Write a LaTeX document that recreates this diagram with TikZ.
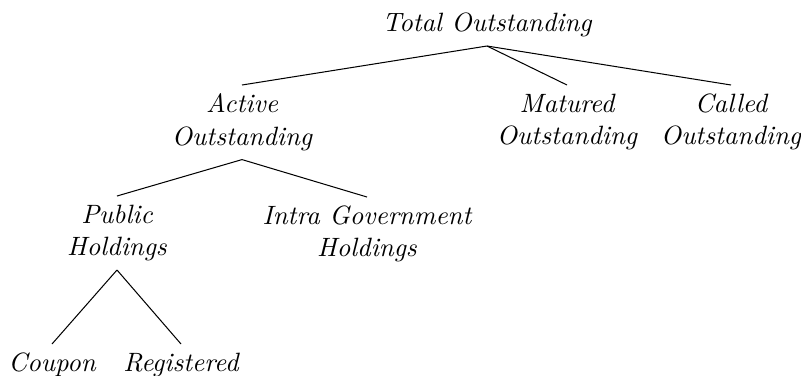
\documentclass[tikz,border=0pt]{standalone}
\begin{document}
\begin{tikzpicture}[x=0.390625pt,y=-0.390625pt,
  lbl/.style={font=\fontsize{10.35}{12.6}\selectfont\itshape, align=center, inner sep=3.3pt},
  edge/.style={draw=black, line width=0.4pt}]
\useasboundingbox (0,0) rectangle (801,375);
\node[lbl, anchor=south] (total) at (487,46) {Total Outstanding};
\node[lbl, anchor=north] (active) at (242,85) {Active\\Outstanding};
\node[lbl, anchor=north] (matured) at (567,85) {Matured\\Outstanding};
\node[lbl, anchor=north] (called) at (731,85) {Called\\Outstanding};
\node[lbl, anchor=north] (public) at (117,196) {Public\\Holdings};
\node[lbl, anchor=north] (intra) at (367,197) {Intra Government\\Holdings};
\node[lbl, anchor=north] (coupon) at (52,344) {Coupon};
\node[lbl, anchor=north] (registered) at (181,344) {Registered};
\draw[edge] (total.south) -- (active.north);
\draw[edge] (total.south) -- (matured.north);
\draw[edge] (total.south) -- (called.north);
\draw[edge] (active.south) -- (public.north);
\draw[edge] (active.south) -- (intra.north);
\draw[edge] (public.south) -- (coupon.north);
\draw[edge] (public.south) -- (registered.north);
\end{tikzpicture}
\end{document}
